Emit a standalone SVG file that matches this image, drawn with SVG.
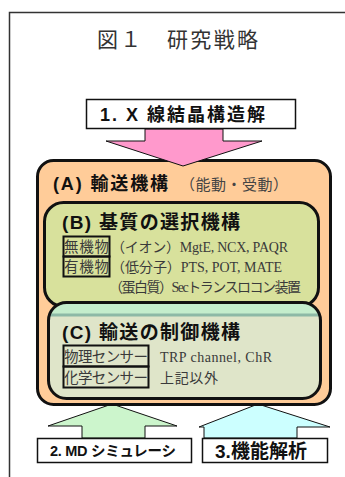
<svg xmlns="http://www.w3.org/2000/svg" width="345" height="477" viewBox="0 0 345 477">
<style>
.jp{font-family:"Noto Sans CJK JP","Liberation Sans",sans-serif}
.hd{font-family:"Liberation Sans","Noto Sans CJK JP",sans-serif;font-weight:bold;fill:#111}
.bd{font-family:"Liberation Serif","Noto Sans CJK JP",serif;fill:#3a3a3a;font-size:14px}
.lb{fill:none;stroke:#111;stroke-width:2}
.bx{fill:#fff;stroke:#111;stroke-width:1.5}
.ar{stroke:#111;stroke-width:1;stroke-linejoin:miter}
</style>
<defs>
<clipPath id="cclip"><rect x="48.5" y="302.5" width="272" height="96" rx="18"/></clipPath>
</defs>
<rect width="345" height="477" fill="#fff"/>
<path d="M9.5,477 V12.5 H345" fill="none" stroke="#333" stroke-width="1.5"/>
<text x="97" y="47" font-size="21" textLength="161" lengthAdjust="spacing" class="jp" fill="#333">図１　研究戦略</text>

<g id="connectors">
<polygon id="arrow2" class="ar" fill="#CCF5CC" points="112,404 177,426 145,426 145,438 82,438 82,426 48,426"/>
<polygon id="arrow3" class="ar" fill="#CCFFFF" points="258,404 330,427 297,427 297,438 204,438 204,427 199,427"/>
</g>

<g id="nodeA">
<rect x="37.5" y="160.5" width="293" height="244" rx="16" fill="#FFCC99" stroke="#111" stroke-width="3"/>
<text x="53" y="190" font-size="18" class="hd" textLength="115" lengthAdjust="spacing">(A) 輸送機構</text>
<text x="180" y="190" font-size="15" class="jp" fill="#444" textLength="108" lengthAdjust="spacing">（能動・受動）</text>
</g>

<g id="nodeB">
<rect x="44.5" y="202.5" width="274" height="104" rx="19" fill="#D8E19C" stroke="#111" stroke-width="3"/>
<text x="62" y="229" font-size="19" class="hd" textLength="178" lengthAdjust="spacing">(B) 基質の選択機構</text>
<rect class="lb" x="63.5" y="236.5" width="46" height="20"/>
<rect class="lb" x="63.5" y="256.5" width="46" height="20"/>
<text x="64" y="252" font-size="14.5" class="jp" fill="#3a3a3a" textLength="45" lengthAdjust="spacing">無機物</text>
<text x="64" y="272" font-size="14.5" class="jp" fill="#3a3a3a" textLength="45" lengthAdjust="spacing">有機物</text>
<text x="111" y="252" class="bd" textLength="177" lengthAdjust="spacing">（イオン）MgtE, NCX,  PAQR</text>
<text x="111" y="272" class="bd" textLength="171" lengthAdjust="spacing">（低分子）PTS, POT, MATE</text>
<text x="109" y="292" class="bd" textLength="192" lengthAdjust="spacing">（蛋白質）Secトランスロコン装置</text>
</g>

<g id="nodeC">
<rect x="48.5" y="302.5" width="272" height="96" rx="18" fill="#DFE5C9"/>
<g clip-path="url(#cclip)">
<rect x="45" y="300" width="280" height="14" fill="#C4EDCC"/>
<line x1="45" y1="315" x2="325" y2="315" stroke="#8DB9A6" stroke-width="3"/>
</g>
<rect x="48.5" y="302.5" width="272" height="96" rx="18" fill="none" stroke="#111" stroke-width="3"/>
<text x="62" y="339" font-size="19" class="hd" textLength="178" lengthAdjust="spacing">(C) 輸送の制御機構</text>
<rect class="lb" x="63.5" y="345.5" width="85" height="21"/>
<rect class="lb" x="63.5" y="366.5" width="85" height="21"/>
<text x="64" y="362" font-size="14.5" class="jp" fill="#3a3a3a" textLength="84" lengthAdjust="spacing">物理センサー</text>
<text x="64" y="383" font-size="14.5" class="jp" fill="#3a3a3a" textLength="84" lengthAdjust="spacing">化学センサー</text>
<text x="160" y="362" class="bd" textLength="112" lengthAdjust="spacing">TRP channel, ChR</text>
<text x="160" y="383" class="bd" font-size="15" textLength="58" lengthAdjust="spacing">上記以外</text>
</g>

<g id="arrow1">
<polygon class="ar" fill="#FF99CC" points="145,129 223,129 223,141 262,141 183,166 106,141 145,141"/>
</g>

<g id="node1">
<rect class="bx" x="86.5" y="99.5" width="209" height="29"/>
<text x="100" y="121" font-size="18" class="hd" textLength="165" lengthAdjust="spacing">1.&#160;X&#160;線結晶構造解</text>
</g>
<g id="node2">
<rect class="bx" x="37.5" y="438.5" width="154" height="24"/>
<text x="50" y="456" font-size="14.5" class="hd" textLength="126" lengthAdjust="spacing">2.&#160;MD&#160;シミュレーシ</text>
</g>
<g id="node3">
<rect class="bx" x="202.5" y="438.5" width="125" height="24"/>
<text x="215" y="458" font-size="19" class="hd" textLength="92" lengthAdjust="spacing">3.機能解析</text>
</g>
</svg>
